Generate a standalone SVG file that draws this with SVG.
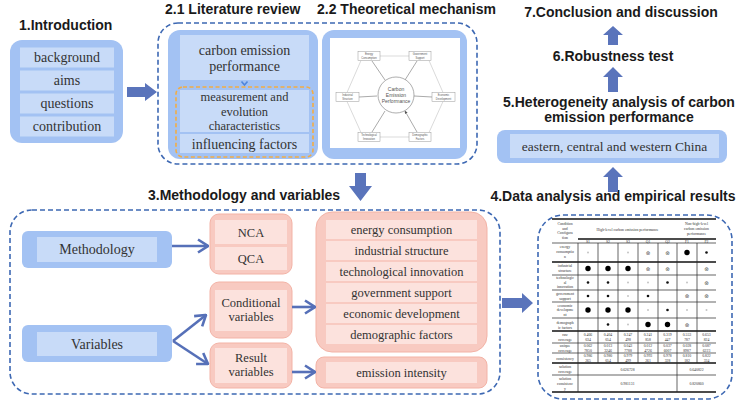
<svg xmlns="http://www.w3.org/2000/svg" width="742" height="414" viewBox="0 0 742 414">
<defs>
<style>
.ttl{font-family:"Liberation Sans",Arial,sans-serif;font-weight:bold;font-size:14px;fill:#1a1a1a}
.bo{fill:#a3c2f3}
.bi{fill:#c8dbf8}
.po{fill:#f8cac1;stroke:#f3b3a6;stroke-width:1}
.pi{fill:#fce2dd}
.tx{font-family:"Liberation Serif","Times New Roman",serif;font-size:14px;fill:#333;text-anchor:middle}
.tp{font-family:"Liberation Serif","Times New Roman",serif;font-size:12.5px;fill:#333;text-anchor:middle}
.dash{fill:none;stroke:#3d68b3;stroke-width:1.6;stroke-dasharray:5 3}
.blk{fill:#5a74bb}
.ln{fill:none;stroke:#5670b8;stroke-width:2.6}
.hx{fill:none;stroke:#b5b5b5;stroke-width:0.5}
.ha{fill:none;stroke:#555;stroke-width:0.5}
.hb{fill:#fff;stroke:#999;stroke-width:0.5}
.ht{font-family:"Liberation Sans",Arial,sans-serif;font-size:2.6px;fill:#555;text-anchor:middle}
.tl{stroke:#222;stroke-width:0.7}
.tk{stroke:#111;stroke-width:1.3}
.tt{font-family:"Liberation Serif","Times New Roman",serif;font-size:3.8px;fill:#333;text-anchor:middle}
.big{fill:#000}
.sml{fill:#111}
.gry{fill:#c4c4c4}
.cx{font-family:"DejaVu Sans",sans-serif;font-size:5.5px;fill:#555;text-anchor:middle}
</style>
<marker id="chev" markerUnits="userSpaceOnUse" viewBox="0 0 12 16" refX="11" refY="8" markerWidth="12" markerHeight="16" orient="auto">
<path d="M1,1.5 L11,8 L1,14.5" fill="none" stroke="#5670b8" stroke-width="2.6"/>
</marker>
<marker id="ha" markerUnits="userSpaceOnUse" viewBox="0 0 4 4" refX="3.5" refY="2" markerWidth="3" markerHeight="3" orient="auto">
<path d="M0,0 L4,2 L0,4 Z" fill="#555"/>
</marker>
</defs>
<rect width="742" height="414" fill="#fff"/>

<!-- Titles -->
<text class="ttl" x="19" y="30">1.Introduction</text>
<text class="ttl" x="165" y="14">2.1 Literature review</text>
<text class="ttl" x="317" y="14">2.2 Theoretical mechanism</text>
<text class="ttl" x="148" y="200">3.Methodology and variables</text>
<text class="ttl" x="613" y="201" text-anchor="middle">4.Data analysis and empirical results</text>
<text class="ttl" x="621" y="17" text-anchor="middle">7.Conclusion and discussion</text>
<text class="ttl" x="613" y="61" text-anchor="middle">6.Robustness test</text>
<text class="ttl" x="619" y="107" text-anchor="middle">5.Heterogeneity analysis of carbon</text>
<text class="ttl" x="619" y="122" text-anchor="middle">emission performance</text>

<!-- Introduction -->
<g id="introduction">
<rect class="bo" x="10" y="40" width="113" height="103" rx="12"/>
<rect class="bi" x="20" y="47.5" width="94" height="20"/>
<rect class="bi" x="20" y="70.5" width="94" height="20"/>
<rect class="bi" x="20" y="93.5" width="94" height="20"/>
<rect class="bi" x="20" y="116.5" width="94" height="20"/>
<text class="tx" x="67" y="62">background</text>
<text class="tx" x="67" y="85">aims</text>
<text class="tx" x="67" y="108">questions</text>
<text class="tx" x="67" y="131">contribution</text>
</g>

<!-- Literature review panel -->
<g id="literature-review">
<rect class="dash" x="158" y="23" width="319" height="141" rx="20"/>
<rect class="bo" x="168" y="30" width="150" height="129" rx="12"/>
<rect class="bi" x="180" y="35" width="129" height="45"/>
<text class="tx" x="244.5" y="55">carbon emission</text>
<text class="tx" x="244.5" y="71">performance</text>
<path d="M241.5,81.5 L244.5,85 L247.5,81.5" fill="none" stroke="#4f86dc" stroke-width="1.6"/>
<rect class="bi" x="180" y="90" width="129" height="42"/>
<rect class="bi" x="180" y="134" width="129" height="19"/>
<rect x="176" y="87" width="137" height="70" rx="7" fill="none" stroke="#f2ad45" stroke-width="1.6" stroke-dasharray="4 2.5"/>
<text class="tx" x="244.5" y="101" style="font-size:12.5px">measurement and</text>
<text class="tx" x="244.5" y="116" style="font-size:12.5px">evolution</text>
<text class="tx" x="244.5" y="130" style="font-size:12.5px">characteristics</text>
<text class="tx" x="244.5" y="149">influencing factors</text>
</g>

<!-- Theoretical mechanism -->
<g id="theoretical-mechanism">
<rect class="bo" x="322" y="30" width="145" height="129" rx="12"/>
<rect x="330" y="38" width="130" height="110" fill="#fff"/>
<path class="hx" d="M380,56 H409 M361,60.5 L347,92.5 M347,101.5 L361,132.5 M380,137 H409 M429,60.5 L443,92.5 M443,101.5 L429,132.5"/>
<path class="ha" marker-end="url(#ha)" d="M372,61 L385,80 M417,61 L405,80 M359,97 L377,96 M432,97 L414,96 M372,132 L385,111 M417,132 L405,111"/>
<circle cx="396" cy="95" r="18" fill="#fff" stroke="#777" stroke-width="0.6"/>
<text class="ht" x="396" y="91" style="font-size:5px">Carbon</text>
<text class="ht" x="396" y="97" style="font-size:5px">Emission</text>
<text class="ht" x="396" y="103" style="font-size:5px">Performance</text>
<rect class="hb" x="358" y="51.5" width="22" height="9"/>
<text class="ht" x="369" y="55">Energy</text><text class="ht" x="369" y="58.5">Consumption</text>
<rect class="hb" x="409" y="51.5" width="22" height="9"/>
<text class="ht" x="420" y="55">Government</text><text class="ht" x="420" y="58.5">Support</text>
<rect class="hb" x="336" y="92.5" width="23" height="9"/>
<text class="ht" x="347.5" y="96">Industrial</text><text class="ht" x="347.5" y="99.5">Structure</text>
<rect class="hb" x="432" y="92.5" width="23" height="9"/>
<text class="ht" x="443.5" y="96">Economic</text><text class="ht" x="443.5" y="99.5">Development</text>
<rect class="hb" x="358" y="132.5" width="22" height="9"/>
<text class="ht" x="369" y="136">Technological</text><text class="ht" x="369" y="139.5">Innovation</text>
<rect class="hb" x="409" y="132.5" width="22" height="9"/>
<text class="ht" x="420" y="136">Demographic</text><text class="ht" x="420" y="139.5">Factors</text>
</g>

<!-- Methodology panel -->
<rect class="dash" x="10" y="210" width="490" height="184" rx="22"/>
<g id="methodology">
<rect class="bo" x="22" y="231" width="150" height="37" rx="6"/>
<rect class="bi" x="37" y="237" width="120" height="25"/>
<text class="tx" x="97" y="254">Methodology</text>
</g>
<g id="variables">
<rect class="bo" x="22" y="325" width="150" height="37" rx="6"/>
<rect class="bi" x="37" y="332" width="120" height="24"/>
<text class="tx" x="97" y="349">Variables</text>
</g>
<g id="nca-qca">
<rect class="po" x="210" y="214" width="82" height="60" rx="9"/>
<rect class="pi" x="215" y="220" width="72" height="24"/>
<rect class="pi" x="215" y="247" width="72" height="23"/>
<text class="tp" x="251" y="236.5">NCA</text>
<text class="tp" x="251" y="263">QCA</text>
</g>
<g id="conditional-variables">
<rect class="po" x="210" y="282" width="82" height="56" rx="9"/>
<rect class="pi" x="215" y="290" width="72" height="41"/>
<text class="tp" x="251" y="307">Conditional</text>
<text class="tp" x="251" y="321">variables</text>
</g>
<g id="result-variables">
<rect class="po" x="210" y="343" width="82" height="45" rx="9"/>
<rect class="pi" x="215" y="348" width="72" height="35"/>
<text class="tp" x="251" y="362">Result</text>
<text class="tp" x="251" y="376">variables</text>
</g>
<g id="conditions-list">
<rect class="po" x="316" y="212" width="171" height="140" rx="16"/>
<rect class="pi" x="326" y="220" width="151" height="19"/>
<rect class="pi" x="326" y="241" width="151" height="19"/>
<rect class="pi" x="326" y="262" width="151" height="19"/>
<rect class="pi" x="326" y="283" width="151" height="19"/>
<rect class="pi" x="326" y="304" width="151" height="19"/>
<rect class="pi" x="326" y="325" width="151" height="19"/>
<text class="tp" x="401.5" y="234">energy consumption</text>
<text class="tp" x="401.5" y="255">industrial structure</text>
<text class="tp" x="401.5" y="276">technological innovation</text>
<text class="tp" x="401.5" y="297">government support</text>
<text class="tp" x="401.5" y="318">economic development</text>
<text class="tp" x="401.5" y="339">demographic factors</text>
</g>
<g id="emission-intensity">
<rect class="po" x="316" y="357" width="171" height="31" rx="8"/>
<rect class="pi" x="326" y="362" width="151" height="21"/>
<text class="tp" x="401.5" y="377">emission intensity</text>
</g>

<!-- Heterogeneity box -->
<g id="heterogeneity">
<rect class="bo" x="497" y="130" width="230" height="33" rx="8"/>
<rect class="bi" x="510" y="134" width="209" height="24"/>
<text class="tx" x="614.5" y="151" style="font-size:13.5px">eastern, central and western China</text>
</g>

<!-- Table panel -->
<g id="results-table">
<rect class="dash" x="538" y="215" width="194" height="184" rx="25"/>
<line class="tk" x1="552" y1="219" x2="716" y2="219"/>
<line class="tk" x1="578" y1="239" x2="716" y2="239"/>
<line class="tl" x1="552" y1="243" x2="716" y2="243"/>
<line class="tk" x1="552" y1="262" x2="716" y2="262"/>
<line class="tl" x1="552" y1="275" x2="716" y2="275"/>
<line class="tl" x1="552" y1="290" x2="716" y2="290"/>
<line class="tl" x1="552" y1="302" x2="716" y2="302"/>
<line class="tl" x1="552" y1="318" x2="716" y2="318"/>
<line class="tk" x1="552" y1="331" x2="716" y2="331"/>
<line class="tl" x1="552" y1="343" x2="716" y2="343"/>
<line class="tl" x1="552" y1="353" x2="716" y2="353"/>
<line class="tk" x1="552" y1="363" x2="716" y2="363"/>
<line class="tl" x1="552" y1="375" x2="716" y2="375"/>
<line class="tk" x1="552" y1="392" x2="716" y2="392"/>
<path class="tl" fill="none" d="M578,243 V392 M598,243 V363 M618,243 V363 M638,243 V363 M658,243 V363 M677,243 V392 M697,243 V363"/>
<text class="tt" x="565" y="225">Condition</text>
<text class="tt" x="565" y="229.5">and</text>
<text class="tt" x="565" y="234">Configura</text>
<text class="tt" x="565" y="238.5">tion</text>
<text class="tt" x="627.5" y="231">High-level carbon emission performance</text>
<text class="tt" x="696.5" y="225">Non-high-level</text>
<text class="tt" x="696.5" y="230">carbon emission</text>
<text class="tt" x="696.5" y="235">performance</text>
<text class="tt" x="588" y="242.5">S1</text><text class="tt" x="608" y="242.5">S2</text><text class="tt" x="628" y="242.5">S3</text><text class="tt" x="648" y="242.5">Q1</text><text class="tt" x="667.5" y="242.5">Q2</text><text class="tt" x="687" y="242.5">F1</text><text class="tt" x="706.5" y="242.5">F2</text>
<text class="tt" x="565" y="248">energy</text><text class="tt" x="565" y="253">consumptio</text><text class="tt" x="565" y="258">n</text>
<text class="tt" x="565" y="267">industrial</text><text class="tt" x="565" y="272">structure</text>
<text class="tt" x="565" y="279">technologic</text><text class="tt" x="565" y="283.5">al</text><text class="tt" x="565" y="288">innovation</text>
<text class="tt" x="565" y="295">government</text><text class="tt" x="565" y="300">support</text>
<text class="tt" x="565" y="306.5">economic</text><text class="tt" x="565" y="311">developme</text><text class="tt" x="565" y="315.5">nt</text>
<text class="tt" x="565" y="323.5">demograph</text><text class="tt" x="565" y="328.5">ic factors</text>
<text class="tt" x="565" y="336">raw</text><text class="tt" x="565" y="341">coverage</text>
<text class="tt" x="565" y="347">unique</text><text class="tt" x="565" y="351.5">coverage</text>
<text class="tt" x="565" y="359.5">consistency</text>
<text class="tt" x="565" y="368">solution</text><text class="tt" x="565" y="373">coverage</text>
<text class="tt" x="565" y="379.5">solution</text><text class="tt" x="565" y="384.5">consistenc</text><text class="tt" x="565" y="389.5">y</text>
<!-- energy -->
<circle class="gry" cx="588" cy="252.5" r="1"/><circle class="gry" cx="628" cy="252.5" r="1"/>
<text class="cx" x="648" y="254.5">⊗</text><text class="cx" x="667.5" y="254.5">⊗</text>
<circle class="big" cx="687" cy="252.5" r="2.7"/><circle class="sml" cx="706.5" cy="252.5" r="1.3"/>
<!-- industrial -->
<circle class="big" cx="588" cy="268.5" r="2.7"/><circle class="big" cx="608" cy="268.5" r="2.7"/><circle class="big" cx="628" cy="268.5" r="2.7"/>
<text class="cx" x="648" y="270.5">⊗</text><text class="cx" x="667.5" y="270.5">⊗</text><text class="cx" x="706.5" y="270.5">⊗</text>
<!-- tech -->
<circle class="sml" cx="588" cy="282.5" r="1.3"/><circle class="sml" cx="608" cy="282.5" r="1.3"/><circle class="gry" cx="628" cy="282.5" r="1"/><circle class="gry" cx="648" cy="282.5" r="1"/><circle class="sml" cx="667.5" cy="282.5" r="1.3"/><circle class="gry" cx="687" cy="282.5" r="1"/>
<text class="cx" x="706.5" y="284.5">⊗</text>
<!-- gov -->
<circle class="sml" cx="588" cy="296" r="1.3"/><circle class="sml" cx="608" cy="296" r="1.3"/><circle class="gry" cx="628" cy="296" r="1"/><circle class="sml" cx="648" cy="296" r="1.3"/>
<text class="cx" x="687" y="298">⊗</text><text class="cx" x="706.5" y="298">⊗</text>
<!-- econ -->
<circle class="big" cx="588" cy="310" r="2.7"/><circle class="big" cx="608" cy="310" r="2.7"/><circle class="big" cx="628" cy="310" r="2.7"/><circle class="gry" cx="648" cy="310" r="1"/><circle class="sml" cx="667.5" cy="310" r="1.3"/><circle class="gry" cx="687" cy="310" r="1"/><circle class="gry" cx="706.5" cy="310" r="1"/>
<!-- demog -->
<circle class="sml" cx="608" cy="324.5" r="1.3"/><circle class="gry" cx="628" cy="324.5" r="1"/><circle class="big" cx="648" cy="324.5" r="2.7"/><circle class="big" cx="667.5" cy="324.5" r="2.7"/>
<text class="cx" x="687" y="326.5">⊗</text>
<!-- raw coverage -->
<text class="tt" x="588" y="336">0.466</text><text class="tt" x="588" y="341">034</text>
<text class="tt" x="608" y="336">0.404</text><text class="tt" x="608" y="341">054</text>
<text class="tt" x="628" y="336">0.247</text><text class="tt" x="628" y="341">498</text>
<text class="tt" x="648" y="336">0.241</text><text class="tt" x="648" y="341">858</text>
<text class="tt" x="667.5" y="336">0.319</text><text class="tt" x="667.5" y="341">447</text>
<text class="tt" x="687" y="336">0.553</text><text class="tt" x="687" y="341">787</text>
<text class="tt" x="706.5" y="336">0.653</text><text class="tt" x="706.5" y="341">824</text>
<!-- unique coverage -->
<text class="tt" x="588" y="347">0.062</text><text class="tt" x="588" y="351.5">7850</text>
<text class="tt" x="608" y="347">0.013</text><text class="tt" x="608" y="351.5">3246</text>
<text class="tt" x="628" y="347">0.043</text><text class="tt" x="628" y="351.5">7788</text>
<text class="tt" x="648" y="347">0.012</text><text class="tt" x="648" y="351.5">4726</text>
<text class="tt" x="667.5" y="347">0.037</text><text class="tt" x="667.5" y="351.5">6007</text>
<text class="tt" x="687" y="347">0.028</text><text class="tt" x="687" y="351.5">8987</text>
<text class="tt" x="706.5" y="347">0.087</text><text class="tt" x="706.5" y="351.5">6223</text>
<!-- consistency -->
<text class="tt" x="588" y="357">0.986</text><text class="tt" x="588" y="361.5">265</text>
<text class="tt" x="608" y="357">0.980</text><text class="tt" x="608" y="361.5">054</text>
<text class="tt" x="628" y="357">0.979</text><text class="tt" x="628" y="361.5">499</text>
<text class="tt" x="648" y="357">0.993</text><text class="tt" x="648" y="361.5">261</text>
<text class="tt" x="667.5" y="357">0.978</text><text class="tt" x="667.5" y="361.5">328</text>
<text class="tt" x="687" y="357">0.810</text><text class="tt" x="687" y="361.5">182</text>
<text class="tt" x="706.5" y="357">0.822</text><text class="tt" x="706.5" y="361.5">334</text>
<text class="tt" x="627.5" y="370.5">0.626728</text><text class="tt" x="696.5" y="370.5">0.640822</text>
<text class="tt" x="627.5" y="385">0.981131</text><text class="tt" x="696.5" y="385">0.820860</text>
</g>

<!-- Connectors -->
<g id="connectors">
<path class="blk" d="M127,87 H145 V83 L157,92 L145,101 V97 H127 Z"/>
<path class="blk" d="M355,173 H366 V186 H372 L360.5,201 L349,186 H355 Z"/>
<path class="blk" d="M502,298 H522 V293 L533,303 L522,313 V308 H502 Z"/>
<path class="blk" d="M608,45 V35 H603 L613,26 L623,35 H618 V45 Z"/>
<path class="blk" d="M608,92 V77 H603 L613,67 L623,77 H618 V92 Z"/>
<path class="blk" d="M608,192 V177 H603 L613,167 L623,177 H618 V192 Z"/>
<line class="ln" x1="172" y1="246" x2="208" y2="246" marker-end="url(#chev)"/>
<line class="ln" x1="173" y1="341" x2="206" y2="315" marker-end="url(#chev)"/>
<line class="ln" x1="173" y1="341" x2="208" y2="364" marker-end="url(#chev)"/>
<line class="ln" x1="292" y1="307" x2="315" y2="307" marker-end="url(#chev)"/>
<line class="ln" x1="292" y1="372" x2="315" y2="372" marker-end="url(#chev)"/>
</g>
</svg>
